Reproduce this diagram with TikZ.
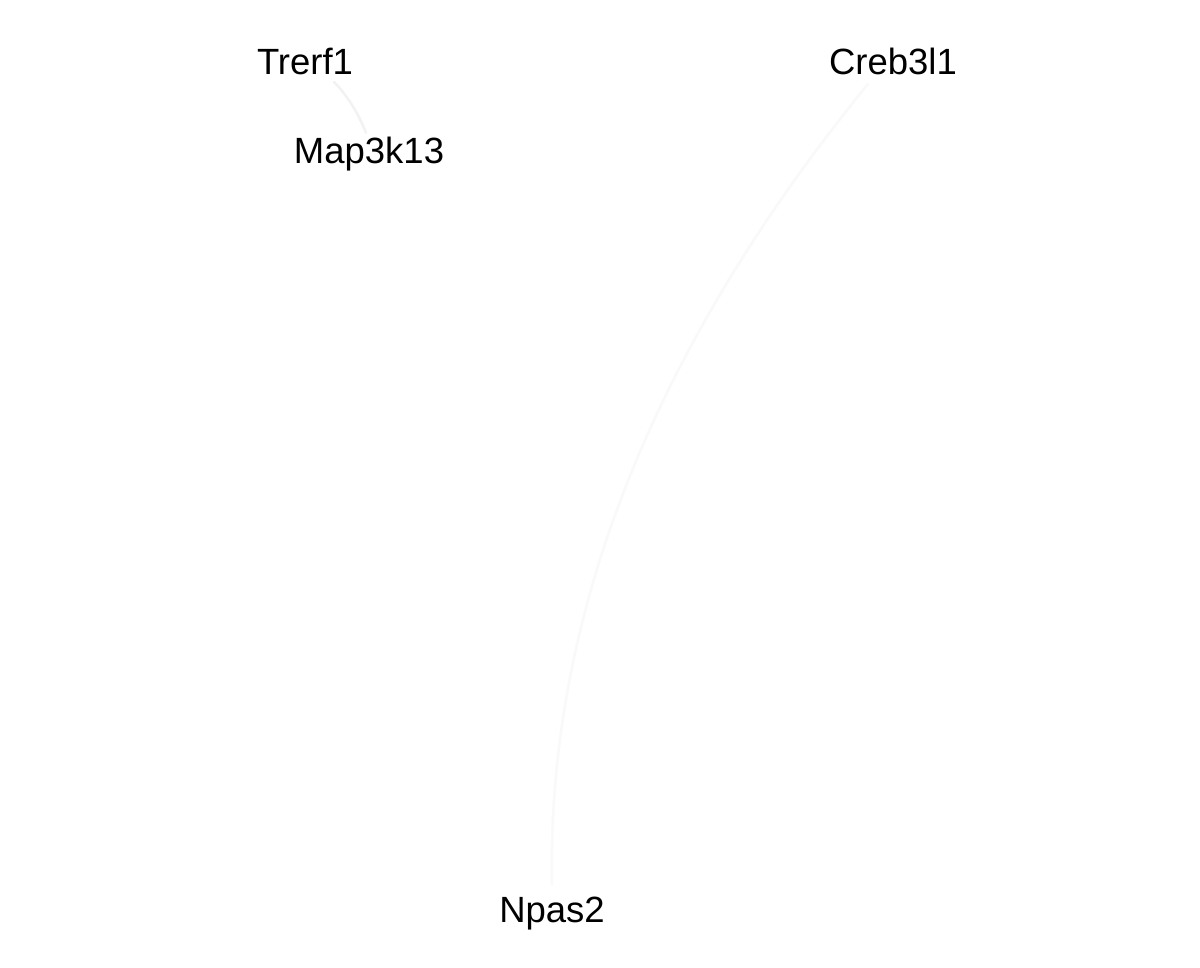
\documentclass[tikz,border=0pt]{standalone}
\usepackage{fontspec}
\setmainfont{Liberation Sans}
\begin{document}
\begin{tikzpicture}[x=1pt,y=-1pt,
  lbl/.style={font=\fontsize{36.5}{42}\selectfont, text=black, inner sep=0pt},
  edge/.style={line width=2.5pt, line cap=round}]
\useasboundingbox (0,0) rectangle (1200,968);
\fill[white] (0,0) rectangle (1200,968);
\coordinate (tA) at (334,82);
\coordinate (mA) at (366,133);
\coordinate (cA) at (868,84);
\coordinate (nA) at (552,884);
\draw[edge, draw=black!5] (tA) .. controls (346,94) and (358,112) .. (mA);
\draw[edge, draw=black!2.5] (nA) .. controls (547,615) and (653,348) .. (cA);
\node[lbl] (trerf1) at (305,61.5) {Trerf1};
\node[lbl] (map3k13) at (369,154.5) {Map3k13};
\node[lbl] (creb3l1) at (893,61.5) {Creb3l1};
\node[lbl] (npas2) at (552,913.5) {Npas2};
\end{tikzpicture}
\end{document}
